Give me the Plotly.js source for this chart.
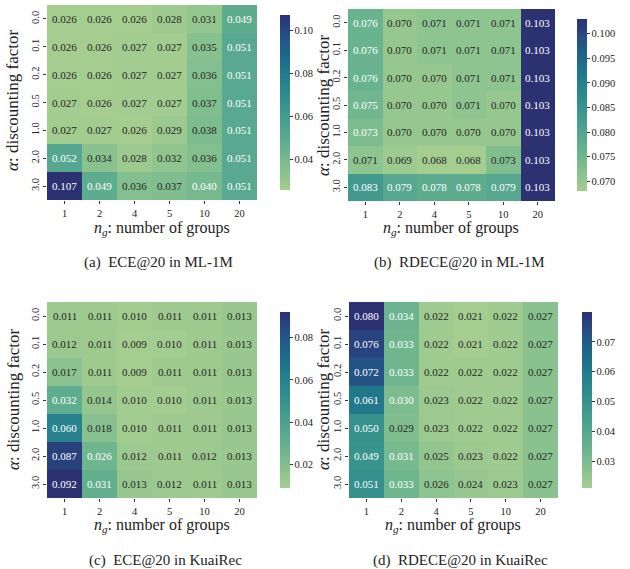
<!DOCTYPE html>
<html>
<head>
<meta charset="utf-8">
<script src="https://cdn.plot.ly/plotly-3.0.1.min.js"></script>
<style>html,body{margin:0;padding:0;background:#fff;}#chart{width:630px;height:569px;}</style>
</head>
<body>
<div id="chart"></div>
<script>
const groups = ['1','2','4','5','10','20'];
const alphas = ['0.0','0.1','0.2','0.5','1.0','2.0','3.0'];

const eceML = [
  [0.026,0.026,0.026,0.028,0.031,0.049],
  [0.026,0.026,0.027,0.027,0.035,0.051],
  [0.026,0.026,0.027,0.027,0.036,0.051],
  [0.027,0.026,0.027,0.027,0.037,0.051],
  [0.027,0.027,0.026,0.029,0.038,0.051],
  [0.052,0.034,0.028,0.032,0.036,0.051],
  [0.107,0.049,0.036,0.037,0.040,0.051]
];
const rdeceML = [
  [0.076,0.070,0.071,0.071,0.071,0.103],
  [0.076,0.070,0.071,0.071,0.071,0.103],
  [0.076,0.070,0.070,0.071,0.071,0.103],
  [0.075,0.070,0.070,0.071,0.070,0.103],
  [0.0733,0.070,0.070,0.070,0.070,0.103],
  [0.071,0.069,0.068,0.068,0.0727,0.103],
  [0.083,0.079,0.078,0.078,0.079,0.103]
];
const eceKuai = [
  [0.011,0.011,0.010,0.011,0.011,0.013],
  [0.012,0.011,0.009,0.010,0.011,0.013],
  [0.017,0.011,0.009,0.011,0.011,0.013],
  [0.032,0.014,0.010,0.010,0.011,0.013],
  [0.060,0.018,0.010,0.011,0.011,0.013],
  [0.087,0.026,0.012,0.011,0.012,0.013],
  [0.092,0.031,0.013,0.012,0.011,0.013]
];
const rdeceKuai = [
  [0.080,0.034,0.022,0.021,0.022,0.027],
  [0.076,0.033,0.022,0.021,0.022,0.027],
  [0.072,0.033,0.022,0.022,0.022,0.027],
  [0.061,0.030,0.023,0.022,0.022,0.027],
  [0.050,0.029,0.023,0.022,0.022,0.027],
  [0.049,0.031,0.025,0.023,0.022,0.027],
  [0.051,0.033,0.026,0.024,0.023,0.027]
];
const captions = ['(a)  ECE@20 in ML-1M','(b)  RDECE@20 in ML-1M','(c)  ECE@20 in KuaiRec','(d)  RDECE@20 in KuaiRec'];
const cbTicks = [
  [0.04,0.06,0.08,0.10],
  [0.070,0.075,0.080,0.085,0.090,0.095,0.100],
  [0.02,0.04,0.06,0.08],
  [0.03,0.04,0.05,0.06,0.07]
];
const cbFormats = ['.2f','.3f','.2f','.2f'];

// seaborn "crest"-like colorscale
const crest = [
  [0.0,'#a5cd90'],[0.1,'#8ac28f'],[0.2,'#70b68f'],[0.3,'#5aaa8f'],
  [0.4,'#479e8f'],[0.5,'#36918e'],[0.6,'#28848d'],[0.7,'#1f748b'],
  [0.8,'#1f6289'],[0.9,'#264c85'],[1.0,'#2c3172']
];
function hex2rgb(h){return [parseInt(h.slice(1,3),16),parseInt(h.slice(3,5),16),parseInt(h.slice(5,7),16)];}
function sample(f){
  f=Math.max(0,Math.min(1,f));
  for(let i=1;i<crest.length;i++){
    if(f<=crest[i][0]){
      const a=crest[i-1],b=crest[i];
      const t=(f-a[0])/(b[0]-a[0]);
      const ca=hex2rgb(a[1]),cb=hex2rgb(b[1]);
      return ca.map((v,k)=>v+(cb[k]-v)*t);
    }
  }
  return hex2rgb(crest[crest.length-1][1]);
}
function lum(rgb){
  const c=rgb.map(v=>{v/=255;return v<=0.03928?v/12.92:Math.pow((v+0.055)/1.055,2.4);});
  return 0.2126*c[0]+0.7152*c[1]+0.0722*c[2];
}
const lumThreshold = lum(sample(0.15));

const panels = [eceML, rdeceML, eceKuai, rdeceKuai];
// geometry (pixels)
const W=630,H=569;
const boxes = [
  {x0:47,x1:257,y0:5,y1:200,cb:270},
  {x0:348,x1:555,y0:9,y1:201,cb:567},
  {x0:47,x1:257,y0:302,y1:498,cb:270},
  {x0:349,x1:558,y0:302,y1:498,cb:572}
];
const capPos = [[158,262],[459,262],[165,560],[460,560]];
const xtPos = [[162,228],[451,228],[162,525],[453,525]];
const ytPos = [[13,101],[323,106],[13,400],[323,400]];

const serif = 'Liberation Serif';
const data=[], annotations=[];
const layout = {
  width:W,height:H,margin:{l:0,r:0,t:0,b:0},
  paper_bgcolor:'#fff',plot_bgcolor:'#fff',
  font:{family:serif,color:'#222',size:10},
  showlegend:false,hovermode:false
};

panels.forEach((z,p)=>{
  const b=boxes[p];
  const sx = p===0?'':String(p+1);
  const flat=z.flat();
  const zmin=Math.min(...flat), zmax=Math.max(...flat);
  data.push({
    type:'heatmap',z:z,x:groups,y:alphas,
    xaxis:'x'+sx,yaxis:'y'+sx,
    colorscale:crest,zmin:zmin,zmax:zmax,xgap:0,ygap:0,
    colorbar:{
      x:b.cb/W,xanchor:'left',xref:'paper',
      y:1-(b.y0+b.y1)/2/H,yanchor:'middle',
      len:(b.y1-b.y0)/H,lenmode:'fraction',thickness:10,
      outlinewidth:0,ticks:'outside',ticklen:3,tickwidth:1,tickcolor:'#333',
      tickvals:cbTicks[p],tickformat:cbFormats[p],
      tickfont:{family:serif,size:10.5,color:'#222'}
    }
  });
  layout['xaxis'+sx]={
    domain:[b.x0/W,b.x1/W],anchor:'y'+sx,type:'category',
    range:[-0.5,groups.length-0.5],autorange:false,
    showgrid:false,zeroline:false,showline:false,
    ticks:'outside',ticklen:3,tickcolor:'#333',
    tickfont:{family:serif,size:10.5,color:'#222'}
  };
  layout['yaxis'+sx]={
    domain:[1-b.y1/H,1-b.y0/H],anchor:'x'+sx,type:'category',
    range:[alphas.length-0.5,-0.5],autorange:false,
    showgrid:false,zeroline:false,showline:false,
    ticks:'outside',ticklen:3,tickcolor:'#333',tickangle:-90,
    tickfont:{family:serif,size:10.5,color:'#222'}
  };
  z.forEach((row,i)=>row.forEach((v,j)=>{
    const f=(v-zmin)/(zmax-zmin);
    const col = lum(sample(f))>lumThreshold?'#262626':'#ffffff';
    annotations.push({
      xref:'x'+sx,yref:'y'+sx,x:j,y:i,
      text:v.toFixed(3),showarrow:false,
      font:{family:serif,size:11,color:col}
    });
  }));
  annotations.push({
    xref:'paper',yref:'paper',x:capPos[p][0]/W,y:1-capPos[p][1]/H,
    xanchor:'center',yanchor:'middle',showarrow:false,
    text:captions[p].replace('  ','&nbsp; '),font:{family:serif,size:15,color:'#222'}
  });
  annotations.push({
    xref:'paper',yref:'paper',x:xtPos[p][0]/W,y:1-xtPos[p][1]/H,
    xanchor:'center',yanchor:'middle',showarrow:false,
    text:'<i>n</i><sub><i>g</i></sub>: number of groups',font:{family:serif,size:16,color:'#222'}
  });
  annotations.push({
    xref:'paper',yref:'paper',x:ytPos[p][0]/W,y:1-ytPos[p][1]/H,
    xanchor:'center',yanchor:'middle',showarrow:false,textangle:-90,
    text:'<i>α</i>: discounting factor',font:{family:serif,size:17,color:'#222'}
  });
});
layout.annotations=annotations;
Plotly.newPlot('chart',data,layout,{displayModeBar:false,staticPlot:true});
</script>
</body>
</html>
